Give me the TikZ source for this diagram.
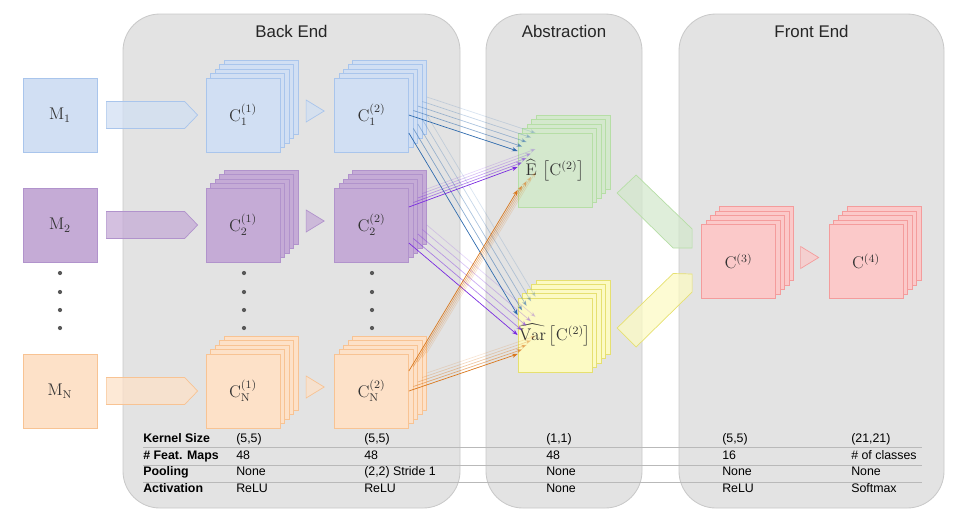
\documentclass[tikz,border=0pt]{standalone}
\usepackage{fontspec}
\setsansfont{Liberation Sans}
\usepackage{amsmath}
\usetikzlibrary{calc}
\usetikzlibrary{arrows.meta}

\definecolor{bluefill}{HTML}{D1DFF3}
\definecolor{blueline}{HTML}{A9C5EC}
\definecolor{bluedark}{HTML}{2F6BAE}
\definecolor{purplefill}{HTML}{C5ABD6}
\definecolor{purpleline}{HTML}{B193CC}
\definecolor{purpledark}{HTML}{7A2BE0}
\definecolor{orangefill}{HTML}{FDE1C8}
\definecolor{orangeline}{HTML}{F8C393}
\definecolor{orangedark}{HTML}{D9771C}
\definecolor{greenfill}{HTML}{D4E8CD}
\definecolor{greenline}{HTML}{B6DEA6}
\definecolor{yellowfill}{HTML}{FCFAC4}
\definecolor{yellowline}{HTML}{E6E070}
\definecolor{redfill}{HTML}{FBC9C9}
\definecolor{redline}{HTML}{F49C9C}
\definecolor{panelfill}{HTML}{E3E3E3}
\definecolor{panelline}{HTML}{C9C9C9}

\tikzset{
	fmap/.style={draw=#1line, fill=#1fill, minimum size=1.85cm, inner sep=0pt, line width=0.5pt, font=\large, text=black!80},
	panel/.style={draw=panelline, fill=panelfill, line width=0.6pt, rounded corners=0.92cm},
	title/.style={font=\sffamily\large, text=black!85},
	fat/.style={draw=#1line, fill=#1fill, fill opacity=0.75, line width=0.5pt},
	link/.style={draw=#1dark, line width=0.5pt, -{Stealth[length=4pt,width=3pt]}},
	rowlab/.style={anchor=base west, font=\sffamily\bfseries\fontsize{8.8}{10}\selectfont, inner sep=0pt},
	rowval/.style={anchor=base west, font=\sffamily\fontsize{8.8}{10}\selectfont, inner sep=0pt},
	rowline/.style={draw=gray!55, line width=0.5pt},
}

% a stack of five feature maps, front one labelled
\newcommand{\mapstack}[5]{%
	\foreach \i in {4,3,2,1}
		\node[fmap=#4] (#1-\i) at ({#2+4.5*\i},{#3-4.5*\i}) {};
	\node[fmap=#4] (#1-0) at (#2,#3) {#5};
}

\begin{document}
\begin{tikzpicture}[x=0.025cm, y=-0.025cm]
	\useasboundingbox (0,0) rectangle (969,529);

	\draw[panel] (123,14) rectangle (460,508);
	\draw[panel] (486,14) rectangle (642,508);
	\draw[panel] (679,14) rectangle (944,508);
	\node[title] (back) at (291.5,31) {Back End};
	\node[title] (abst) at (564,31) {Abstraction};
	\node[title] (front) at (811.5,31) {Front End};

	% table rules
	\foreach \y in {447,465,482}
		\draw[rowline] (143,\y) -- (922,\y);

	\node[fmap=blue] (m1) at (60,115) {$\mathrm{M}_1$};
	\node[fmap=purple] (m2) at (60,225) {$\mathrm{M}_2$};
	\node[fmap=orange] (mn) at (60,391) {$\mathrm{M}_\mathrm{N}$};

	\mapstack{c11}{243}{115}{blue}{$\mathrm{C}_1^{(1)}$}
	\mapstack{c12}{371.5}{115}{blue}{$\mathrm{C}_1^{(2)}$}
	\mapstack{c21}{243}{225}{purple}{$\mathrm{C}_2^{(1)}$}
	\mapstack{c22}{371.5}{225}{purple}{$\mathrm{C}_2^{(2)}$}
	\mapstack{cn1}{243}{391}{orange}{$\mathrm{C}_\mathrm{N}^{(1)}$}
	\mapstack{cn2}{371.5}{391}{orange}{$\mathrm{C}_\mathrm{N}^{(2)}$}
	\mapstack{e}{555}{170}{green}{$\widehat{\mathrm{E}}\,\left[\mathrm{C}^{(2)}\right]$}
	\mapstack{var}{555}{335}{yellow}{$\widehat{\mathrm{Var}}\left[\mathrm{C}^{(2)}\right]$}
	\mapstack{c3}{738.5}{261.5}{red}{$\mathrm{C}^{(3)}$}
	\mapstack{c4}{866}{261.5}{red}{$\mathrm{C}^{(4)}$}

	\foreach \x in {60,244,372}
		\foreach \y in {273,292,310,328}
			\fill[black!65] (\x,\y) circle (1.5pt);

	\foreach \m/\c/\col in {m1/c11/blue, m2/c21/purple, mn/cn1/orange}
		\draw[fat=\col] ($(\m.east)+(9,-13.5)$) -- ($(\c-0.west)+(-21,-13.5)$) -- ($(\c-0.west)+(-8,0)$)
			-- ($(\c-0.west)+(-21,13.5)$) -- ($(\m.east)+(9,13.5)$) -- cycle;

	\foreach \c/\col in {c12/blue, c22/purple, cn2/orange, c4/red}
		\draw[fat=\col] ($(\c-0.west)+(-28,-15)$) -- ($(\c-0.west)+(-10,-4)$) -- ($(\c-0.west)+(-28,7)$) -- cycle;

	\draw[fat=green] ($(c3-0.west)+(-84,-68.5)$) -- ($(c3-0.west)+(-65,-86.5)$) -- ($(c3-0.west)+(-9,-32.5)$)
		-- ($(c3-0.west)+(-9,-13.5)$) -- ($(c3-0.west)+(-28,-13.5)$) -- cycle;
	\draw[fat=yellow] ($(c3-0.west)+(-84,66.5)$) -- ($(c3-0.west)+(-65,85.5)$) -- ($(c3-0.west)+(-9,30.5)$)
		-- ($(c3-0.west)+(-9,12.5)$) -- ($(c3-0.west)+(-28,12)$) -- cycle;

	\foreach \s/\ae/\be/\av/\bv/\col in {c12/0/-19/18/-20/blue, c22/-18/-3/18/0/purple, cn2/-20/20/0/19/orange}
		\foreach \i/\o in {0/1, 1/0.55, 2/0.4, 3/0.28, 4/0.18} {
			\draw[link=\col, opacity=\o] ([shift={(0,\ae)}]\s-\i.east) -- ([shift={(0,\be)}]e-\i.west);
			\draw[link=\col, opacity=\o] ([shift={(0,\av)}]\s-\i.east) -- ([shift={(0,\bv)}]var-\i.west);
		}

	\foreach \lab/\y [count=\r] in {Kernel Size/442.5, \# Feat. Maps/459, Pooling/475.7, Activation/492.3}
		\node[rowlab] (lab\r) at (143,\y) {\lab};
	\foreach \x/\a/\b/\c/\d [count=\k] in {236/{(5,5)}/48/None/ReLU, 364/{(5,5)}/48/{(2,2) Stride 1}/ReLU,
			546/{(1,1)}/48/None/None, 722/{(5,5)}/16/None/ReLU, 851/{(21,21)}/\# of classes/None/Softmax} {
		\node[rowval] (val\k a) at (\x,442.5) {\a};
		\node[rowval] (val\k b) at (\x,459) {\b};
		\node[rowval] (val\k c) at (\x,475.7) {\c};
		\node[rowval] (val\k d) at (\x,492.3) {\d};
	}
\end{tikzpicture}
\end{document}
